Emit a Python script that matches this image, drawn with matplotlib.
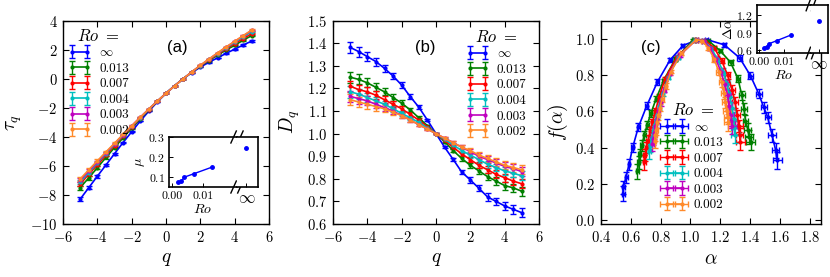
import numpy as np
import matplotlib
matplotlib.use('Agg')
import matplotlib.pyplot as plt

plt.rcParams['font.family'] = 'serif'
plt.rcParams['font.serif'] = ['cmr10', 'DejaVu Serif']
plt.rcParams['mathtext.fontset'] = 'cm'
plt.rcParams['axes.formatter.use_mathtext'] = True
plt.rcParams['axes.unicode_minus'] = True

# ---- data ----
q = [-5, -4.5, -4, -3.5, -3, -2.5, -2, -1.5, -1, -0.5, 0, 0.5, 1, 1.5, 2, 2.5, 3, 3.5, 4, 4.5, 5]
labels = [r'$\infty$', '0.013', '0.007', '0.004', '0.003', '0.002']
colors = ['b', 'g', 'r', 'c', 'm', '#ff8a2a']

# (a) tau_q
tau_inf = [-8.29, -7.50, -6.71, -5.94, -5.16, -4.39, -3.65, -2.91, -2.23, -1.59, -1.0, -0.47, 0, 0.42, 0.80, 1.14, 1.44, 1.75, 2.04, 2.33, 2.60]
tau_013 = [-7.50, -6.82, -6.13, -5.42, -4.74, -4.06, -3.41, -2.76, -2.14, -1.55, -1.0, -0.48, 0, 0.45, 0.86, 1.25, 1.62, 1.98, 2.31, 2.66, 2.98]
tau_007 = [-7.26, -6.57, -5.93, -5.27, -4.60, -3.96, -3.33, -2.71, -2.12, -1.55, -1.0, -0.49, 0, 0.46, 0.89, 1.29, 1.68, 2.05, 2.42, 2.77, 3.11]
tau_004 = [-7.11, -6.46, -5.80, -5.15, -4.52, -3.89, -3.27, -2.68, -2.10, -1.54, -1.0, -0.49, 0, 0.46, 0.91, 1.33, 1.73, 2.13, 2.51, 2.89, 3.25]
tau_003 = [-6.99, -6.35, -5.73, -5.09, -4.46, -3.85, -3.24, -2.65, -2.08, -1.53, -1.0, -0.49, 0, 0.47, 0.92, 1.35, 1.77, 2.18, 2.57, 2.96, 3.33]
tau_002 = [-6.90, -6.27, -5.65, -5.04, -4.44, -3.83, -3.24, -2.65, -2.08, -1.53, -1.0, -0.49, 0, 0.47, 0.93, 1.36, 1.78, 2.19, 2.58, 2.98, 3.36]
tau_err = [0.15, 0.12, 0.1, 0.08, 0.06, 0.05, 0.04, 0.03, 0.02, 0.01, 0.0, 0.0, 0.0, 0.0, 0.01, 0.02, 0.02, 0.03, 0.04, 0.04, 0.05]

# (b) D_q
D_inf = [1.382, 1.363, 1.341, 1.319, 1.289, 1.255, 1.215, 1.164, 1.117, 1.06, 1.0, 0.94, 0.886, 0.83, 0.795, 0.758, 0.72, 0.70, 0.68, 0.665, 0.65]
D_013 = [1.25, 1.24, 1.225, 1.205, 1.185, 1.16, 1.135, 1.105, 1.07, 1.035, 1.0, 0.965, 0.925, 0.89, 0.86, 0.835, 0.81, 0.79, 0.77, 0.76, 0.745]
D_007 = [1.21, 1.195, 1.185, 1.17, 1.15, 1.13, 1.11, 1.085, 1.06, 1.03, 1.0, 0.97, 0.94, 0.91, 0.885, 0.86, 0.84, 0.82, 0.805, 0.79, 0.778]
D_004 = [1.185, 1.175, 1.16, 1.145, 1.13, 1.11, 1.09, 1.07, 1.05, 1.025, 1.0, 0.975, 0.95, 0.925, 0.905, 0.885, 0.865, 0.85, 0.835, 0.825, 0.813]
D_003 = [1.165, 1.155, 1.145, 1.13, 1.115, 1.1, 1.08, 1.06, 1.04, 1.02, 1.0, 0.98, 0.96, 0.94, 0.92, 0.9, 0.885, 0.87, 0.855, 0.845, 0.832]
D_002 = [1.15, 1.14, 1.13, 1.12, 1.11, 1.095, 1.08, 1.06, 1.04, 1.02, 1.0, 0.98, 0.96, 0.94, 0.925, 0.905, 0.89, 0.875, 0.86, 0.85, 0.84]
D_err = [0.025, 0.022, 0.02, 0.018, 0.016, 0.014, 0.012, 0.01, 0.008, 0.005, 0.002, 0.005, 0.008, 0.01, 0.012, 0.014, 0.016, 0.017, 0.018, 0.019, 0.02]

# (c) f(alpha)
al_inf = [0.548, 0.55, 0.568, 0.588, 0.613, 0.651, 0.707, 0.779, 0.864, 0.95, 1.044, 1.111, 1.228, 1.331, 1.403, 1.459, 1.492, 1.519, 1.549, 1.573, 1.582]
f_inf = [0.147, 0.183, 0.238, 0.308, 0.403, 0.514, 0.631, 0.763, 0.884, 0.963, 0.994, 0.996, 0.967, 0.895, 0.798, 0.697, 0.624, 0.569, 0.468, 0.385, 0.33]
al_013 = [0.645, 0.652, 0.66, 0.674, 0.69, 0.71, 0.735, 0.77, 0.82, 0.90, 1.02, 1.12, 1.20, 1.27, 1.32, 1.345, 1.36, 1.37, 1.385, 1.395, 1.405]
f_013 = [0.27, 0.32, 0.365, 0.413, 0.468, 0.525, 0.59, 0.67, 0.77, 0.89, 0.995, 0.99, 0.935, 0.87, 0.78, 0.69, 0.615, 0.55, 0.50, 0.46, 0.43]
al_007 = [0.69, 0.695, 0.705, 0.715, 0.73, 0.745, 0.765, 0.79, 0.83, 0.91, 1.03, 1.10, 1.16, 1.21, 1.25, 1.28, 1.30, 1.315, 1.325, 1.33, 1.335]
f_007 = [0.32, 0.36, 0.40, 0.44, 0.49, 0.54, 0.60, 0.68, 0.78, 0.90, 0.995, 0.99, 0.95, 0.88, 0.80, 0.72, 0.65, 0.58, 0.52, 0.47, 0.43]
al_004 = [0.725, 0.73, 0.74, 0.75, 0.76, 0.775, 0.79, 0.815, 0.85, 0.92, 1.03, 1.09, 1.14, 1.18, 1.22, 1.245, 1.265, 1.28, 1.29, 1.295, 1.30]
f_004 = [0.38, 0.41, 0.45, 0.49, 0.53, 0.58, 0.63, 0.70, 0.79, 0.90, 0.995, 0.99, 0.95, 0.89, 0.82, 0.75, 0.68, 0.62, 0.56, 0.51, 0.47]
al_003 = [0.745, 0.75, 0.755, 0.765, 0.775, 0.785, 0.80, 0.825, 0.86, 0.93, 1.04, 1.09, 1.13, 1.17, 1.205, 1.23, 1.25, 1.26, 1.27, 1.275, 1.28]
f_003 = [0.42, 0.45, 0.48, 0.52, 0.56, 0.60, 0.65, 0.72, 0.81, 0.91, 0.995, 0.99, 0.95, 0.89, 0.82, 0.75, 0.69, 0.63, 0.58, 0.55, 0.52]
al_002 = [0.76, 0.765, 0.77, 0.775, 0.785, 0.795, 0.81, 0.835, 0.87, 0.94, 1.04, 1.08, 1.12, 1.16, 1.19, 1.21, 1.225, 1.235, 1.245, 1.25, 1.255]
f_002 = [0.44, 0.47, 0.50, 0.54, 0.58, 0.62, 0.67, 0.74, 0.82, 0.92, 0.995, 0.99, 0.95, 0.89, 0.82, 0.76, 0.70, 0.65, 0.60, 0.57, 0.54]
al_err = [0.01, 0.01, 0.01, 0.01, 0.01, 0.01, 0.01, 0.01, 0.01, 0.01, 0.01, 0.01, 0.01, 0.015, 0.015, 0.02, 0.02, 0.02, 0.025, 0.025, 0.03]
f_err = [0.04, 0.035, 0.03, 0.03, 0.025, 0.02, 0.02, 0.015, 0.01, 0.01, 0.005, 0.005, 0.01, 0.015, 0.02, 0.025, 0.03, 0.03, 0.035, 0.04, 0.045]

# insets
Ro_vals = [0.002, 0.003, 0.004, 0.007, 0.013]
mu_vals = [0.071, 0.077, 0.097, 0.114, 0.148]
mu_inf = 0.243
dal_vals = [0.64, 0.657, 0.71, 0.76, 0.86]
dal_inf = 1.098

taus = [tau_inf, tau_013, tau_007, tau_004, tau_003, tau_002]
Ds = [D_inf, D_013, D_007, D_004, D_003, D_002]
als = [al_inf, al_013, al_007, al_004, al_003, al_002]
fs = [f_inf, f_013, f_007, f_004, f_003, f_002]

fig = plt.figure(figsize=(8.3, 2.77), dpi=100)
W, H = 830.0, 277.0

TICK = 10.5
LAB = 14
LEG = dict(frameon=False, title=r'$Ro\ =$', fontsize=9.5, title_fontsize=12,
           labelspacing=0.25, handlelength=1.75, handletextpad=0.6,
           borderpad=0, borderaxespad=0, numpoints=2)


def px_axes(x0, x1, ytop, ybot):
    return fig.add_axes([x0 / W, 1 - ybot / H, (x1 - x0) / W, (ybot - ytop) / H])


def style(ax, size=TICK):
    ax.tick_params(direction='in', top=True, right=True, labelsize=size,
                   length=4, width=0.8, pad=4)
    for s in ax.spines.values():
        s.set_linewidth(1.0)


axA = px_axes(63, 269, 20.7, 224)
axB = px_axes(333, 539, 20.7, 224)
axC = px_axes(601, 821, 20.7, 224)

# (a)
for y, c, lab in zip(taus, colors, labels):
    axA.errorbar(q, y, yerr=tau_err, fmt='.-', color=c, ms=4, lw=1.2,
                 capsize=2, elinewidth=1, capthick=1, label=lab)
axA.set_xlim(-6, 6)
axA.set_ylim(-10, 4)
axA.set_xticks(np.arange(-6, 7, 2))
axA.set_yticks(np.arange(-10, 5, 2))
axA.set_xlabel(r'$q$', fontsize=LAB, labelpad=4)
axA.set_ylabel(r'$\tau_q$', fontsize=LAB, labelpad=4)
style(axA)
axA.text(0.553, 0.867, '(a)', transform=axA.transAxes, fontsize=12,
         family='Liberation Sans', ha='center', va='center')
axA.legend(loc='upper left', bbox_to_anchor=(0.025, 0.965), **LEG)

# (b)
for y, c, lab in zip(Ds, colors, labels):
    axB.errorbar(q, y, yerr=D_err, fmt='.-', color=c, ms=4, lw=1.2,
                 capsize=2, elinewidth=1, capthick=1, label=lab)
axB.set_xlim(-6, 6)
axB.set_ylim(0.6, 1.5)
axB.set_xticks(np.arange(-6, 7, 2))
axB.set_yticks(np.arange(0.6, 1.51, 0.1))
axB.set_xlabel(r'$q$', fontsize=LAB, labelpad=4)
axB.set_ylabel(r'$D_q$', fontsize=LAB, labelpad=4)
style(axB)
axB.text(0.447, 0.867, '(b)', transform=axB.transAxes, fontsize=12,
         family='Liberation Sans', ha='center', va='center')
axB.legend(loc='upper right', bbox_to_anchor=(0.94, 0.96), **LEG)

# (c)
for x, y, c, lab in zip(als, fs, colors, labels):
    axC.errorbar(x, y, xerr=al_err, yerr=f_err, fmt='.-', color=c, ms=4, lw=1.2,
                 capsize=2, elinewidth=1, capthick=1, label=lab)
axC.set_xlim(0.4, 1.877)
axC.set_ylim(-0.02, 1.1)
axC.set_xticks(np.arange(0.4, 1.81, 0.2))
axC.set_yticks(np.arange(0.0, 1.01, 0.2))
axC.set_xlabel(r'$\alpha$', fontsize=LAB, labelpad=4)
axC.set_ylabel(r'$f(\alpha)$', fontsize=LAB, labelpad=4)
style(axC)
axC.text(0.226, 0.867, '(c)', transform=axC.transAxes, fontsize=12,
         family='Liberation Sans', ha='center', va='center')
axC.legend(loc='upper left', bbox_to_anchor=(0.28, 0.60), **LEG)


def broken_inset(xl, xm, xr, ytop, ybot, vals, vinf, ylim, yticks, ylabel):
    a1 = px_axes(xl, xm, ytop, ybot)
    a2 = px_axes(xm, xr, ytop, ybot)
    a1.plot(Ro_vals, vals, '.-', color='b', ms=5, lw=1)
    a2.plot([1.0], [vinf], '.', color='b', ms=5)
    a1.set_xlim(-0.001, 0.021)
    a2.set_xlim(0.55, 1.55)
    for a in (a1, a2):
        a.set_ylim(*ylim)
        a.tick_params(direction='in', labelsize=8.5, length=3, width=0.7, pad=3)
        for s in a.spines.values():
            s.set_linewidth(1.2)
    a1.spines['right'].set_visible(False)
    a2.spines['left'].set_visible(False)
    a1.set_xticks([0.0, 0.01])
    a1.set_xticklabels(['0.00', '0.01'])
    a1.set_yticks(yticks)
    a2.set_yticks([])
    a2.set_xticks([1.0])
    a2.set_xticklabels([r'$\infty$'], fontsize=12)
    a1.set_xlabel(r'$Ro$', fontsize=10, labelpad=2)
    a1.set_ylabel(ylabel, fontsize=10, labelpad=1)
    # break marks
    dx, dy = 0.04, 0.12
    for yb in (0, 1):
        for off in (-0.05, 0.05):
            a1.plot([1 + off - dx, 1 + off + dx], [yb - dy, yb + dy],
                    transform=a1.transAxes, color='k', lw=1, clip_on=False)
    return a1, a2


broken_inset(169, 237, 258, 137, 187, mu_vals, mu_inf, (0.047, 0.3),
             [0.1, 0.2, 0.3], r'$\mu$')
broken_inset(757, 811, 828, 5, 53, dal_vals, dal_inf, (0.55, 1.37),
             [0.6, 0.9, 1.2], r'$\Delta\alpha$')

fig.savefig('out.png', dpi=100)
